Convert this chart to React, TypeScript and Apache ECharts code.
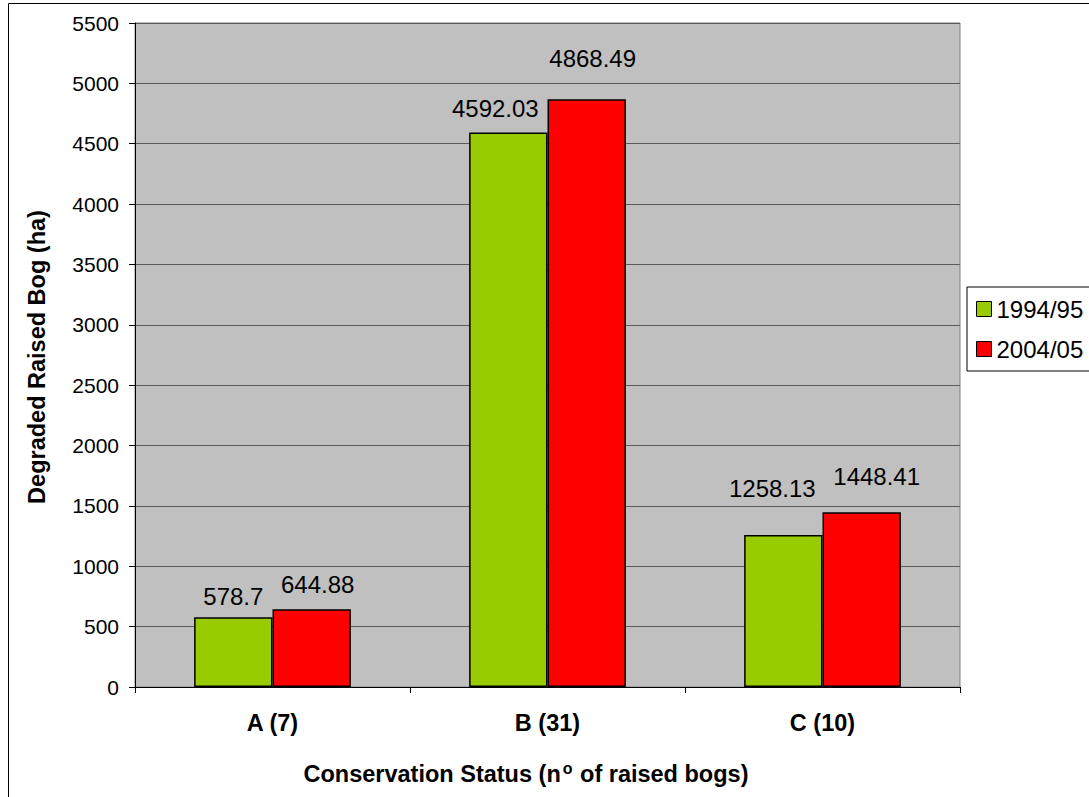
import React, { useEffect, useRef } from "react";
import * as echarts from "echarts";

// Degraded raised bog area by conservation status
const categories = ["A (7)", "B (31)", "C (10)"];
const seriesNames = ["1994/95", "2004/05"];
const values1994 = [578.7, 4592.03, 1258.13];
const values2004 = [644.88, 4868.49, 1448.41];
const yTicks = { min: 0, max: 5500, interval: 500 };

// Nudges for the value labels so neighbouring labels stay clear of each other
const labelNudge1994: [number, number][] = [[0, -4], [-13, -7], [-11, -30]];
const labelNudge2004: [number, number][] = [[6, -8], [6, -24], [15, -19]];

const FONT = "'Liberation Sans', Arial, sans-serif";

export default function App() {
  const ref = useRef<HTMLDivElement>(null);

  useEffect(() => {
    if (!ref.current) return;
    const chart = echarts.init(ref.current, undefined, { renderer: "svg" });

    const build = (vals: number[], nudges: [number, number][]) =>
      vals.map((v, i) => ({ value: v, label: { offset: nudges[i] } }));

    const barLabel = {
      show: true,
      position: "top" as const,
      color: "#000",
      fontFamily: FONT,
      fontSize: 24,
      formatter: (p: any) => String(p.value),
    };

    chart.setOption({
      animation: false,
      backgroundColor: "#fff",
      textStyle: { fontFamily: FONT },
      grid: {
        left: 135,
        top: 23,
        right: 129,
        bottom: 110,
        show: true,
        backgroundColor: "#c0c0c0",
        borderColor: "#808080",
        borderWidth: 1,
      },
      legend: {
        orient: "vertical",
        left: 967,
        top: 287,
        data: seriesNames,
        backgroundColor: "#fff",
        borderColor: "#000",
        borderWidth: 1,
        borderRadius: 0,
        padding: [10, 100, 10, 9],
        itemWidth: 15,
        itemHeight: 15,
        itemGap: 16,
        icon: "rect",
        itemStyle: { borderColor: "#000", borderWidth: 1 },
        textStyle: { fontFamily: FONT, fontSize: 24, color: "#000", lineHeight: 24 },
      },
      xAxis: {
        type: "category",
        data: categories,
        axisLine: { lineStyle: { color: "#000", width: 1 } },
        axisTick: { show: true, length: 6, lineStyle: { color: "#000" } },
        axisLabel: {
          color: "#000",
          fontFamily: FONT,
          fontSize: 23.5,
          fontWeight: "bold",
          margin: 24,
        },
      },
      yAxis: {
        type: "value",
        min: yTicks.min,
        max: yTicks.max,
        interval: yTicks.interval,
        axisLine: { show: true, lineStyle: { color: "#000", width: 1 } },
        axisTick: { show: true, length: 6, lineStyle: { color: "#000" } },
        axisLabel: {
          color: "#000",
          fontFamily: FONT,
          fontSize: 21,
          margin: 16,
          formatter: (v: number) => String(v),
        },
        splitLine: { show: true, lineStyle: { color: "#5a5a5a", width: 1 } },
      },
      series: [
        {
          name: seriesNames[0],
          type: "bar",
          data: build(values1994, labelNudge1994),
          barGap: "0%",
          barCategoryGap: "43%",
          itemStyle: { color: "#99cc00", borderColor: "#000", borderWidth: 1.5 },
          label: barLabel,
        },
        {
          name: seriesNames[1],
          type: "bar",
          data: build(values2004, labelNudge2004),
          barGap: "0%",
          barCategoryGap: "43%",
          itemStyle: { color: "#ff0000", borderColor: "#000", borderWidth: 1.5 },
          label: barLabel,
        },
      ],
      graphic: [
        {
          type: "rect",
          shape: { x: 8.5, y: 3.5, width: 1200, height: 1000 },
          style: { fill: "none", stroke: "#000", lineWidth: 1 },
          silent: true,
          z: -1,
        },
        {
          type: "text",
          x: 37,
          y: 357,
          rotation: Math.PI / 2,
          style: {
            text: "Degraded Raised Bog (ha)",
            font: `bold 23.5px ${FONT}`,
            fill: "#000",
            align: "center",
            verticalAlign: "middle",
          },
        },
        {
          type: "text",
          x: 526,
          y: 773,
          style: {
            text: "{t|Conservation Status (n}{sup|o}{t| of raised bogs)}",
            fill: "#000",
            align: "center",
            verticalAlign: "middle",
            rich: {
              t: { font: `bold 23.5px ${FONT}`, fill: "#000", verticalAlign: "bottom" },
              sup: {
                font: `bold 16px ${FONT}`,
                fill: "#000",
                verticalAlign: "bottom",
                padding: [0, 1, 10, 2],
              },
            },
          },
        },
      ],
    });

    return () => chart.dispose();
  }, []);

  return (
    <div
      ref={ref}
      style={{ position: "fixed", left: 0, top: 0, width: 1089, height: 797 }}
    />
  );
}
